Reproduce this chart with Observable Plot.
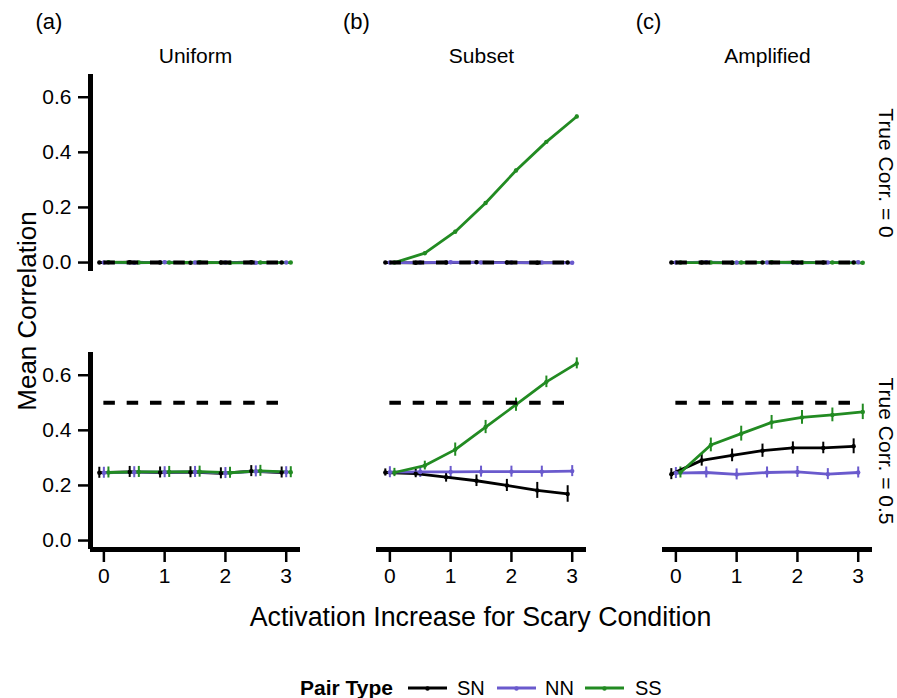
<!DOCTYPE html>
<html><head><meta charset="utf-8">
<script src="https://cdn.jsdelivr.net/npm/d3@7"></script>
<script src="https://cdn.jsdelivr.net/npm/@observablehq/plot@0.6"></script>
<style>
body{margin:0;background:#fff;font-family:"Liberation Sans",Arial,Helvetica,sans-serif;}
#wrap{position:relative;width:897px;height:698px;overflow:hidden;}
#legend{position:absolute;left:0;top:674px;width:897px;height:28px;font-size:20px;color:#000;white-space:nowrap;}
#legend > *{position:absolute;top:0;height:28px;line-height:28px;}
#legend svg{top:8px;height:12px;}
</style></head><body>
<div id="wrap"><div id="chart"></div><div id="legend"></div></div>
<script>
// ---- data ----
const xVals = [0, 0.5, 1, 1.5, 2, 2.5, 3];
const conditions = ["Uniform", "Subset", "Amplified"];
const panelTags = ["(a)", "(b)", "(c)"];
const trueCorrs = [0, 0.5];
const pairTypes = ["SN", "NN", "SS"];
const pairColors = ["#000000", "#6A5ACD", "#228B22"];
const yTicks = [0, 0.2, 0.4, 0.6];
const xTicks = [0, 1, 2, 3];

// True Corr. = 0
const uni0_SN = [0.000, 0.001, 0.000, -0.001, 0.000, 0.001, 0.000];
const uni0_NN = [0.000, -0.001, 0.001, 0.000, 0.000, -0.001, 0.000];
const uni0_SS = [0.001, 0.000, 0.000, 0.001, -0.001, 0.000, 0.000];
const sub0_SN = [0.000, -0.001, 0.000, 0.001, 0.000, -0.001, 0.000];
const sub0_NN = [0.000, 0.000, 0.001, 0.000, 0.000, 0.000, -0.001];
const sub0_SS = [0.000, 0.034, 0.112, 0.216, 0.334, 0.438, 0.530];
const amp0_SN = [0.000, 0.000, -0.001, 0.000, 0.001, 0.000, 0.000];
const amp0_NN = [0.000, 0.001, 0.000, 0.000, -0.001, 0.000, 0.001];
const amp0_SS = [0.000, 0.000, 0.000, 0.001, 0.000, 0.000, -0.001];
const err0_small = [0.004, 0.004, 0.004, 0.004, 0.004, 0.004, 0.004];
const sub0_SS_err = [0.004, 0.004, 0.005, 0.005, 0.005, 0.005, 0.005];

// True Corr. = 0.5
const uni5_SN = [0.246, 0.249, 0.247, 0.248, 0.244, 0.252, 0.247];
const uni5_NN = [0.246, 0.248, 0.248, 0.249, 0.245, 0.251, 0.248];
const uni5_SS = [0.247, 0.249, 0.249, 0.250, 0.246, 0.253, 0.248];
const uni5_err = [0.02, 0.02, 0.02, 0.02, 0.02, 0.02, 0.02];
const sub5_SN = [0.247, 0.243, 0.230, 0.217, 0.200, 0.182, 0.169];
const sub5_SN_err = [0.013, 0.015, 0.018, 0.021, 0.022, 0.029, 0.030];
const sub5_NN = [0.248, 0.249, 0.249, 0.250, 0.250, 0.250, 0.252];
const sub5_NN_err = [0.02, 0.02, 0.02, 0.02, 0.02, 0.02, 0.02];
const sub5_SS = [0.247, 0.272, 0.330, 0.412, 0.493, 0.576, 0.643];
const sub5_SS_err = [0.015, 0.016, 0.024, 0.024, 0.024, 0.021, 0.020];
const amp5_SN = [0.241, 0.291, 0.309, 0.326, 0.336, 0.336, 0.342];
const amp5_SN_err = [0.020, 0.021, 0.023, 0.024, 0.022, 0.021, 0.027];
const amp5_NN = [0.245, 0.247, 0.240, 0.247, 0.249, 0.241, 0.247];
const amp5_NN_err = [0.02, 0.02, 0.02, 0.02, 0.02, 0.02, 0.02];
const amp5_SS = [0.247, 0.347, 0.388, 0.429, 0.447, 0.456, 0.467];
const amp5_SS_err = [0.020, 0.025, 0.027, 0.025, 0.025, 0.025, 0.028];

const series = {
  Uniform:   {0: {SN: [uni0_SN, err0_small], NN: [uni0_NN, err0_small], SS: [uni0_SS, err0_small]},
              0.5: {SN: [uni5_SN, uni5_err], NN: [uni5_NN, uni5_err], SS: [uni5_SS, uni5_err]}},
  Subset:    {0: {SN: [sub0_SN, err0_small], NN: [sub0_NN, err0_small], SS: [sub0_SS, sub0_SS_err]},
              0.5: {SN: [sub5_SN, sub5_SN_err], NN: [sub5_NN, sub5_NN_err], SS: [sub5_SS, sub5_SS_err]}},
  Amplified: {0: {SN: [amp0_SN, err0_small], NN: [amp0_NN, err0_small], SS: [amp0_SS, err0_small]},
              0.5: {SN: [amp5_SN, amp5_SN_err], NN: [amp5_NN, amp5_NN_err], SS: [amp5_SS, amp5_SS_err]}}
};

// ---- build table ----
const dodge = {SN: -0.075, NN: 0, SS: 0.075};
const rows = [];
for (const c of conditions) for (const r of trueCorrs) for (const p of pairTypes) {
  const [m, e] = series[c][r][p];
  xVals.forEach((x, i) => rows.push({cond: c, r, pair: p, key: c + r + p, x, xd: x + dodge[p], mean: m[i], lo: m[i] - e[i], hi: m[i] + e[i]}));
}
const refRows = [];
for (const c of conditions) for (const r of trueCorrs) refRows.push({cond: c, r});

const xDomain = [-0.22, 3.235];
const yDomain = [-0.0325, 0.6825];
const font = "Liberation Sans, Arial, Helvetica, sans-serif";

const plot = Plot.plot({
  width: 897, height: 650,
  marginTop: 74, marginBottom: 100, marginLeft: 89, marginRight: 25,
  style: {fontFamily: font, fontSize: "21px", color: "black", background: "white", overflow: "visible"},
  x: {domain: xDomain},
  y: {domain: yDomain},
  fx: {domain: conditions, paddingInner: 0.266, paddingOuter: 0, axis: null, label: null},
  fy: {domain: trueCorrs, paddingInner: 0.29, paddingOuter: 0, axis: null, label: null},
  color: {domain: pairTypes, range: pairColors},
  marks: [
    Plot.ruleX(rows, {x: "xd", y1: "lo", y2: "hi", fx: "cond", fy: "r", stroke: "pair", strokeWidth: 2}),
    Plot.line(rows, {x: "xd", y: "mean", z: "key", fx: "cond", fy: "r", stroke: "pair", strokeWidth: 2.8}),
    Plot.dot(rows, {x: "xd", y: "mean", fx: "cond", fy: "r", fill: "pair", r: 2.2}),
    Plot.ruleY(refRows, {y: "r", x1: () => d3.min(xVals), x2: () => d3.max(xVals), fx: "cond", fy: "r",
      stroke: "black", strokeWidth: 4, strokeDasharray: "11.5,11.8"}),
    // axis lines
    Plot.ruleX(trueCorrs, {x: () => xDomain[0], fx: () => conditions[0], fy: d => d, stroke: "black", strokeWidth: 5}),
    Plot.ruleY(conditions, {y: () => yDomain[0], fx: d => d, fy: () => trueCorrs[1], stroke: "black", strokeWidth: 5}),
    Plot.axisY({ticks: yTicks, tickFormat: d3.format(".1f"), tickSize: 12, tickPadding: 7, fontSize: 21, strokeWidth: 2.5, label: null}),
    Plot.axisX({ticks: xTicks, tickFormat: d3.format("d"), tickSize: 13, tickPadding: 6, fontSize: 21, strokeWidth: 2.5, label: null}),
    // strip labels
    Plot.text(conditions, {fx: d => d, fy: () => trueCorrs[0], text: d => d, frameAnchor: "top", lineAnchor: "middle", textAnchor: "middle", dy: -18.5, fontSize: 21}),
    Plot.text(trueCorrs, {fx: () => conditions[2], fy: d => d, text: d => `True Corr. = ${d}`, frameAnchor: "right", textAnchor: "middle", lineAnchor: "middle", rotate: 90, dx: 13, fontSize: 21})
  ]
});
document.getElementById("chart").appendChild(plot);

// overall titles and panel tags
const svg = d3.select(plot);
const tagX = [49, 356.5, 648.5];
panelTags.forEach((t, i) => svg.append("text").attr("x", tagX[i]).attr("y", 29).attr("text-anchor", "middle")
  .attr("font-size", 22).attr("font-family", font).attr("fill", "black").text(t));
svg.append("text").attr("transform", "translate(36,311) rotate(-90)").attr("text-anchor", "middle")
  .attr("font-size", 26).attr("font-family", font).attr("fill", "black").text("Mean Correlation");
svg.append("text").attr("x", 480.5).attr("y", 626).attr("text-anchor", "middle")
  .attr("font-size", 26.8).attr("font-family", font).attr("fill", "black").text("Activation Increase for Scary Condition");

// legend (positioned items)
const lg = document.getElementById("legend");
const title = document.createElement("span");
title.textContent = "Pair Type";
title.style.fontWeight = "bold";
title.style.fontSize = "21px";
title.style.left = "300px";
lg.appendChild(title);
const swLeft = [408, 497, 585];
const labLeft = [457, 545, 635];
pairTypes.forEach((p, i) => {
  const ns = "http://www.w3.org/2000/svg";
  const s = document.createElementNS(ns, "svg");
  s.setAttribute("width", 39); s.setAttribute("height", 12);
  s.style.left = swLeft[i] + "px";
  const ln = document.createElementNS(ns, "line");
  ln.setAttribute("x1", 0); ln.setAttribute("x2", 39); ln.setAttribute("y1", 6); ln.setAttribute("y2", 6);
  ln.setAttribute("stroke", pairColors[i]); ln.setAttribute("stroke-width", 2.8);
  const c = document.createElementNS(ns, "circle");
  c.setAttribute("cx", 19.5); c.setAttribute("cy", 6.5); c.setAttribute("r", 2.2); c.setAttribute("fill", pairColors[i]);
  s.appendChild(ln); s.appendChild(c);
  lg.appendChild(s);
  const lab = document.createElement("span");
  lab.textContent = p;
  lab.style.left = labLeft[i] + "px";
  lg.appendChild(lab);
});
</script>
</body></html>
